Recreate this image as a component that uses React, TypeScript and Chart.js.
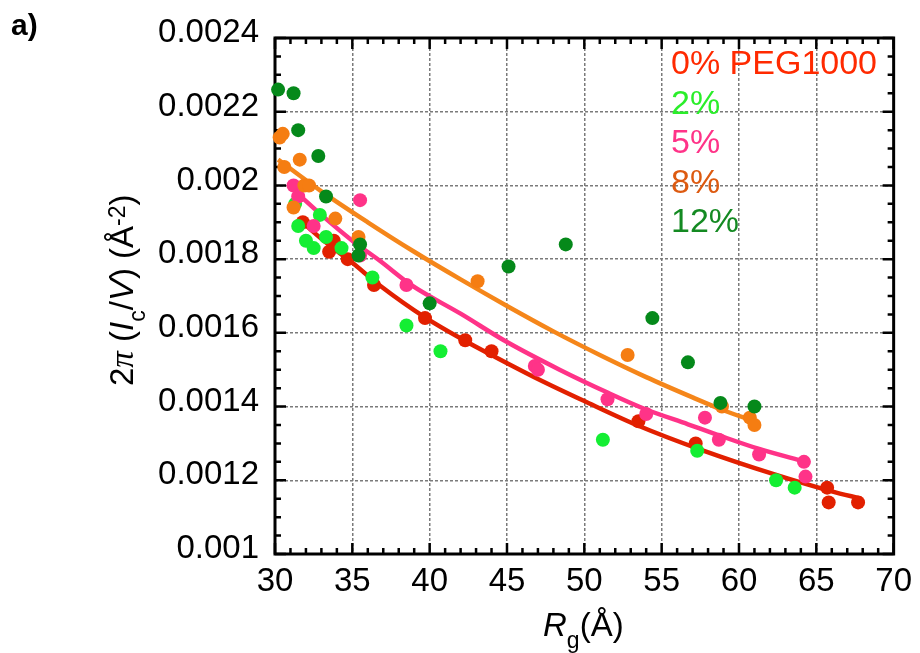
import React, { useEffect, useRef } from 'react';
import { Chart, registerables } from 'chart.js';

Chart.register(...registerables);

// ---------- data ----------
const xTickValues = [30, 35, 40, 45, 50, 55, 60, 65, 70];
const xTickLabels = ['30', '35', '40', '45', '50', '55', '60', '65', '70'];
const yTickValues = [0.001, 0.0012, 0.0014, 0.0016, 0.0018, 0.002, 0.0022, 0.0024];
const yTickLabels = ['0.001', '0.0012', '0.0014', '0.0016', '0.0018', '0.002', '0.0022', '0.0024'];

const seriesNames = ['0% PEG1000', '2%', '5%', '8%', '12%'];

// 0% PEG1000
const rg0 = [31.8, 33.8, 33.5, 34.7, 36.4, 39.7, 42.3, 44.0, 53.5, 57.2, 65.7, 65.8, 67.7];
const ic0 = [0.0019, 0.00185, 0.00182, 0.0018, 0.00173, 0.00164, 0.00158, 0.00155, 0.00136, 0.0013, 0.00118, 0.00114, 0.00114];
// 2%
const rg2 = [31.3, 31.5, 32.0, 32.5, 32.9, 33.3, 34.3, 36.3, 38.5, 40.7, 51.2, 57.3, 62.4, 63.6];
const ic2 = [0.00195, 0.00189, 0.00185, 0.00183, 0.00192, 0.00186, 0.00183, 0.00175, 0.00162, 0.00155, 0.00131, 0.00128, 0.0012, 0.00118];
// 5%
const rg5 = [31.2, 31.5, 32.5, 35.5, 35.5, 38.5, 46.8, 47.0, 51.5, 54.0, 57.8, 58.7, 61.3, 64.2, 64.3];
const ic5 = [0.002, 0.00197, 0.00189, 0.00196, 0.00181, 0.00173, 0.00151, 0.0015, 0.00142, 0.00138, 0.00137, 0.00131, 0.00127, 0.00125, 0.00121];
// 8%
const rg8 = [30.3, 30.5, 31.6, 30.6, 31.9, 32.2, 31.2, 33.9, 35.4, 43.1, 52.8, 58.9, 60.7, 61.0];
const ic8 = [0.00213, 0.00214, 0.00207, 0.00205, 0.002, 0.002, 0.00194, 0.00191, 0.00186, 0.00174, 0.00154, 0.0014, 0.00137, 0.00135];
// 12%
const rg12 = [30.2, 31.2, 31.5, 32.8, 33.3, 35.5, 35.4, 40.0, 45.1, 48.8, 54.4, 56.7, 58.8, 61.0];
const ic12 = [0.00226, 0.00225, 0.00215, 0.00208, 0.00197, 0.00184, 0.00181, 0.00168, 0.00178, 0.00184, 0.00164, 0.00152, 0.00141, 0.0014];

// fitted curves
const fit0X = [31.5, 33, 35, 36.8, 39.7, 42.3, 44, 47, 50, 53.5, 57.6, 62.3, 66, 67.9];
const fit0Y = [0.00191, 0.001855, 0.00179, 0.001728, 0.001642, 0.001578, 0.00154, 0.001475, 0.001415, 0.001348, 0.001282, 0.001216, 0.00117, 0.00115];
const fit5X = [30.9, 33, 35, 36.8, 38.8, 42, 45, 48.4, 51.5, 54, 56.7, 58.7, 61.3, 64.3];
const fit5Y = [0.002, 0.00192, 0.00185, 0.001795, 0.00173, 0.001652, 0.001575, 0.0015, 0.001438, 0.001392, 0.001352, 0.001322, 0.001285, 0.00125];
const fit8X = [30.2, 33, 36, 39, 42, 45, 48, 51, 54, 57, 59, 61];
const fit8Y = [0.00207, 0.001984, 0.0019, 0.00182, 0.001745, 0.001673, 0.001604, 0.00154, 0.00148, 0.001425, 0.00139, 0.00136];

// ---------- styles ----------
const pointColors = ['#e22000', '#14ee33', '#ff3388', '#f57d12', '#05891a'];
const legendColors = ['#ff2a00', '#2aee2a', '#ff3388', '#dd5a10', '#148a22'];
const lineColors = ['#e22000', '#ff3388', '#f5861a'];
const FONT = '"Liberation Sans", Arial, Helvetica, sans-serif';

const toPts = (xs: number[], ys: number[]) => xs.map((x, i) => ({ x, y: ys[i] }));

const framePlugin = {
  id: 'frame',
  beforeDatasetsDraw(chart: any) {
    const { ctx, chartArea, scales } = chart;
    const { left, right, top, bottom } = chartArea;
    const xs = scales.x;
    const ys = scales.y;
    ctx.save();
    ctx.strokeStyle = '#000';
    ctx.lineWidth = 2.5;
    ctx.beginPath();
    for (let i = 0; i < xTickValues.length; i++) {
      const v = xTickValues[i];
      const px = xs.getPixelForValue(v);
      ctx.moveTo(px, bottom); ctx.lineTo(px, bottom - 11);
      ctx.moveTo(px, top); ctx.lineTo(px, top + 11);
      if (i < xTickValues.length - 1) {
        const step = (xTickValues[i + 1] - v) / 5;
        for (let k = 1; k < 5; k++) {
          const p = xs.getPixelForValue(v + k * step);
          ctx.moveTo(p, bottom); ctx.lineTo(p, bottom - 6);
          ctx.moveTo(p, top); ctx.lineTo(p, top + 6);
        }
      }
    }
    for (let i = 0; i < yTickValues.length; i++) {
      const v = yTickValues[i];
      const py = ys.getPixelForValue(v);
      ctx.moveTo(left, py); ctx.lineTo(left + 11, py);
      ctx.moveTo(right, py); ctx.lineTo(right - 11, py);
      if (i < yTickValues.length - 1) {
        const step = (yTickValues[i + 1] - v) / 4;
        for (let k = 1; k < 4; k++) {
          const p = ys.getPixelForValue(v + k * step);
          ctx.moveTo(left, p); ctx.lineTo(left + 6, p);
          ctx.moveTo(right, p); ctx.lineTo(right - 6, p);
        }
      }
    }
    ctx.stroke();
    ctx.lineWidth = 3;
    ctx.strokeRect(left, top, right - left, bottom - top);
    ctx.restore();
  },
};

export default function App() {
  const ref = useRef<HTMLCanvasElement | null>(null);

  useEffect(() => {
    document.body.style.margin = '0';
    const pointSet = (idx: number, xs: number[], ys: number[], order: number) => ({
      label: seriesNames[idx],
      data: toPts(xs, ys),
      backgroundColor: pointColors[idx],
      borderColor: pointColors[idx],
      borderWidth: 0,
      pointRadius: 7,
      pointHoverRadius: 7,
      showLine: false,
      clip: false as any,
      order,
    });
    const lineSet = (label: string, xs: number[], ys: number[], color: string, order: number) => ({
      label,
      data: toPts(xs, ys),
      borderColor: color,
      backgroundColor: color,
      borderWidth: 4.5,
      pointRadius: 0,
      showLine: true,
      tension: 0.4,
      cubicInterpolationMode: 'monotone' as const,
      fill: false,
      order,
    });

    const chart = new Chart(ref.current as HTMLCanvasElement, {
      type: 'scatter',
      data: {
        datasets: [
          pointSet(4, rg12, ic12, 0),
          pointSet(3, rg8, ic8, 1),
          pointSet(2, rg5, ic5, 2),
          pointSet(1, rg2, ic2, 3),
          pointSet(0, rg0, ic0, 4),
          lineSet('fit 0%', fit0X, fit0Y, lineColors[0], 10),
          lineSet('fit 5%', fit5X, fit5Y, lineColors[1], 11),
          lineSet('fit 8%', fit8X, fit8Y, lineColors[2], 12),
        ] as any,
      },
      options: {
        responsive: false,
        animation: false,
        devicePixelRatio: 1,
        layout: { padding: { left: 0, top: 38, right: 24, bottom: 0 } },
        plugins: { legend: { display: false }, tooltip: { enabled: false } },
        scales: {
          x: {
            type: 'linear',
            min: 30,
            max: 70,
            afterBuildTicks: (s: any) => { s.ticks = xTickValues.map((v) => ({ value: v })); },
            afterFit: (s: any) => { s.height = 99; },
            ticks: {
              callback: (v: any) => { const i = xTickValues.indexOf(Number(v)); return i >= 0 ? xTickLabels[i] : ''; },
              font: { family: FONT, size: 33 },
              color: '#000',
              padding: 8,
              maxRotation: 0,
              autoSkip: false,
            },
            grid: { color: '#7a7a7a', lineWidth: 1.5, drawTicks: false },
            border: { display: false, dash: [3, 2] },
          },
          y: {
            type: 'linear',
            min: 0.001,
            max: 0.0024,
            afterBuildTicks: (s: any) => { s.ticks = yTickValues.map((v) => ({ value: v })); },
            afterFit: (s: any) => { s.width = 275; },
            ticks: {
              callback: (v: any) => {
                let best = 0;
                for (let i = 0; i < yTickValues.length; i++) if (Math.abs(yTickValues[i] - v) < Math.abs(yTickValues[best] - v)) best = i;
                return yTickLabels[best];
              },
              font: { family: FONT, size: 33 },
              color: '#000',
              padding: 16,
              labelOffset: -5,
              autoSkip: false,
            },
            grid: { color: '#7a7a7a', lineWidth: 1.5, drawTicks: false },
            border: { display: false, dash: [3, 2] },
          },
        },
      },
      plugins: [framePlugin],
    } as any);
    return () => chart.destroy();
  }, []);

  const sub: React.CSSProperties = { fontSize: 23, position: 'relative', top: 12, fontStyle: 'normal' };
  const sup: React.CSSProperties = { fontSize: 23, position: 'relative', top: -8 };

  return (
    <div style={{ position: 'relative', width: 920, height: 653, background: '#fff', overflow: 'hidden', fontFamily: FONT, color: '#000' }}>
      <canvas ref={ref} width={920} height={653} style={{ position: 'absolute', left: 0, top: 0, width: 920, height: 653 }} />
      <div style={{ position: 'absolute', left: 11, top: 10, fontSize: 30, fontWeight: 'bold', lineHeight: '30px' }}>a)</div>
      <div style={{ position: 'absolute', left: 671, top: 43, fontSize: 34, lineHeight: '39.5px', whiteSpace: 'nowrap' }}>
        {seriesNames.map((n, i) => (
          <div key={n} style={{ color: legendColors[i] }}>{n}</div>
        ))}
      </div>
      <div style={{ position: 'absolute', left: 543, top: 608, fontSize: 33, lineHeight: '33px', whiteSpace: 'nowrap' }}>
        <i>R</i><span style={sub}>g</span>(Å)
      </div>
      <div style={{ position: 'absolute', left: 105, top: 386, fontSize: 33, lineHeight: '33px', whiteSpace: 'nowrap', transformOrigin: '0 0', transform: 'rotate(-90deg)' }}>
        2<span style={{ fontFamily: '"Liberation Serif", "DejaVu Serif", serif', fontStyle: 'italic' }}>π</span> (<i>I</i><span style={sub}>c</span>/<i>V</i>) (Å<span style={sup}>-2</span>)
      </div>
    </div>
  );
}
